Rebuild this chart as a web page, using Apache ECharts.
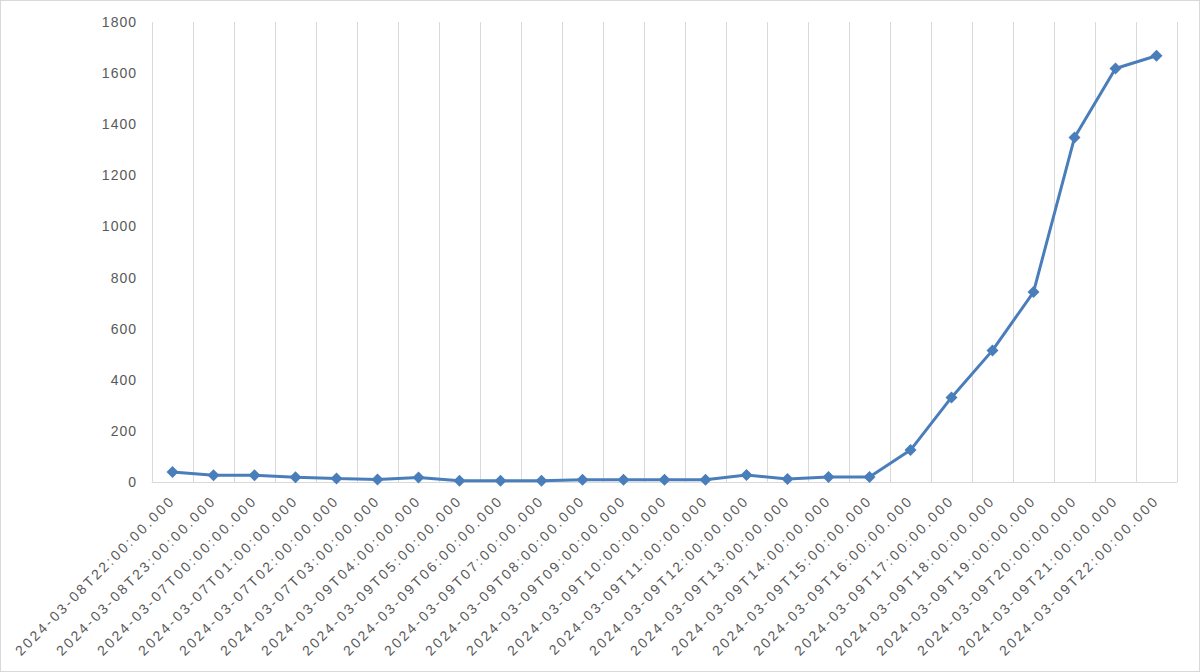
<!DOCTYPE html>
<html>
<head>
<meta charset="utf-8">
<script src="https://cdn.jsdelivr.net/npm/echarts@6/dist/echarts.min.js"></script>
<style>
  html, body { margin: 0; padding: 0; background: #fff; }
  #chart { width: 1200px; height: 672px; box-sizing: border-box; border: 1px solid #d9d9d9; }
  #chart text { letter-spacing: 1px; }
  #chart text[transform^="matrix"] { letter-spacing: 2.5px; }
</style>
</head>
<body>
<div id="chart"></div>
<script>
const categories = [
  "2024-03-08T22:00:00.000", "2024-03-08T23:00:00.000", "2024-03-07T00:00:00.000",
  "2024-03-07T01:00:00.000", "2024-03-07T02:00:00.000", "2024-03-07T03:00:00.000",
  "2024-03-09T04:00:00.000", "2024-03-09T05:00:00.000", "2024-03-09T06:00:00.000",
  "2024-03-09T07:00:00.000", "2024-03-09T08:00:00.000", "2024-03-09T09:00:00.000",
  "2024-03-09T10:00:00.000", "2024-03-09T11:00:00.000", "2024-03-09T12:00:00.000",
  "2024-03-09T13:00:00.000", "2024-03-09T14:00:00.000", "2024-03-09T15:00:00.000",
  "2024-03-09T16:00:00.000", "2024-03-09T17:00:00.000", "2024-03-09T18:00:00.000",
  "2024-03-09T19:00:00.000", "2024-03-09T20:00:00.000", "2024-03-09T21:00:00.000",
  "2024-03-09T22:00:00.000"
];
const values = [39, 26, 26, 19, 14, 10, 18, 5, 5, 5, 9, 9, 9, 9, 27, 12, 20, 20, 125, 331, 515, 743, 1348, 1618, 1668];
const yMin = 0, yMax = 1800, yStep = 200;

const chart = echarts.init(document.getElementById('chart'), null, { renderer: 'svg', width: 1198, height: 670 });
chart.setOption({
  animation: false,
  backgroundColor: '#ffffff',
  grid: { left: 151, right: 22, top: 21, bottom: 189, containLabel: false },
  xAxis: {
    type: 'category',
    data: categories,
    boundaryGap: true,
    axisLine: { show: true, lineStyle: { color: '#d9d9d9', width: 1 } },
    axisTick: { show: false },
    splitLine: { show: true, interval: 0, lineStyle: { color: '#d9d9d9', width: 1 } },
    axisLabel: {
      interval: 0, rotate: 45, margin: 16,
      color: '#595959', fontSize: 14, fontFamily: 'Liberation Sans'
    }
  },
  yAxis: {
    type: 'value',
    min: yMin, max: yMax, interval: yStep,
    axisLine: { show: false },
    axisTick: { show: false },
    splitLine: { show: false },
    axisLabel: {
      margin: 15, color: '#595959', fontSize: 14, fontFamily: 'Liberation Sans',
      formatter: function (v) { return String(v); }
    }
  },
  series: [{
    type: 'line',
    data: values,
    symbol: 'diamond',
    symbolSize: 12,
    lineStyle: { color: '#4a7ebb', width: 3 },
    itemStyle: { color: '#4a7ebb' }
  }]
});
</script>
</body>
</html>
